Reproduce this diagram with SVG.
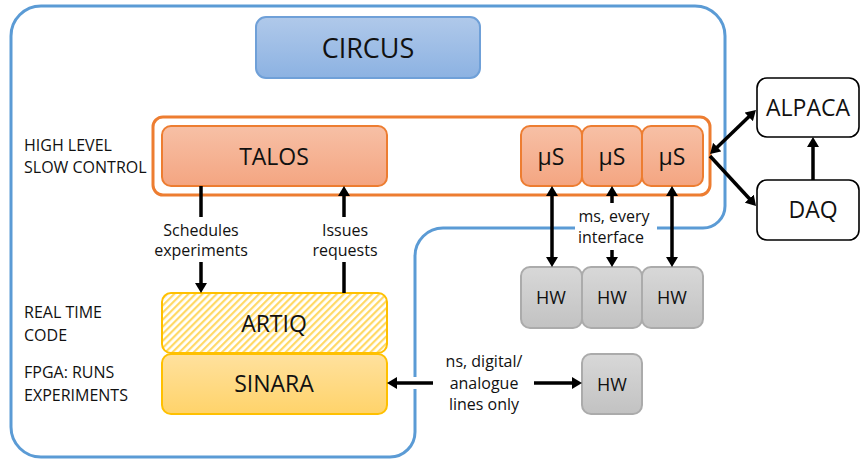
<svg xmlns="http://www.w3.org/2000/svg" width="861" height="459" viewBox="0 0 861 459">
<style>
  text { font-family: "Open Sans", "Liberation Sans", sans-serif; fill: #111; text-anchor: middle; }
  .lbl { font-size: 16px; text-anchor: start; }
  .small { font-size: 16px; }
  .big { font-size: 23px; }
  .conn { stroke: #000; stroke-width: 3.5; fill: none; }
  .orange { fill: url(#gOrange); stroke: #ED7D31; stroke-width: 2; }
  .hw { fill: url(#gGray); stroke: #ABABAB; stroke-width: 2; }
  .ext { fill: #fff; stroke: #000; stroke-width: 1.6; }
</style>
<defs>
  <linearGradient id="gBlue" x1="0" y1="0" x2="0" y2="1">
    <stop offset="0" stop-color="#B0C9EA"/><stop offset="1" stop-color="#8CB2E2"/>
  </linearGradient>
  <linearGradient id="gOrange" x1="0" y1="0" x2="0" y2="1">
    <stop offset="0" stop-color="#F7C0A6"/><stop offset="1" stop-color="#F4A581"/>
  </linearGradient>
  <linearGradient id="gGray" x1="0" y1="0" x2="0" y2="1">
    <stop offset="0" stop-color="#D8D8D8"/><stop offset="1" stop-color="#C2C2C2"/>
  </linearGradient>
  <linearGradient id="gYellow" x1="0" y1="0" x2="0" y2="1">
    <stop offset="0" stop-color="#FFE19E"/><stop offset="1" stop-color="#FFD36A"/>
  </linearGradient>
  <pattern id="hatch" patternUnits="userSpaceOnUse" width="5" height="5" patternTransform="rotate(45)">
    <rect width="5" height="5" fill="#fff"/>
    <rect x="0" y="0" width="2.2" height="5" fill="#FFD966"/>
  </pattern>
  <marker id="ah" viewBox="0 0 10 12" markerUnits="userSpaceOnUse" markerWidth="10" markerHeight="12" refX="3" refY="6" orient="auto-start-reverse">
    <path d="M0,0 L10,6 L0,12 z" fill="#000"/>
  </marker>
</defs>

<g id="circus-boundary">
  <path d="M41,6 H695 A30 30 0 0 1 725 36 V206 A22 22 0 0 1 703 228 H443 A28 28 0 0 0 415 256 V432 A25 25 0 0 1 390 457 H41 A30 30 0 0 1 11 427 V36 A30 30 0 0 1 41 6 Z" fill="none" stroke="#5B9BD5" stroke-width="3"/>
  <rect x="575" y="204" width="82" height="46" fill="#fff"/>
  <rect x="409" y="377" width="9" height="12" fill="#fff"/>
</g>

<g id="circus">
  <rect x="256" y="17" width="224" height="61" rx="10" fill="url(#gBlue)" stroke="#6FA0D8" stroke-width="2"/>
  <text x="368" y="58" style="font-size:27px">CIRCUS</text>
</g>

<g id="slow-control-frame">
  <rect x="153" y="117" width="557" height="78" rx="10" fill="#fff" stroke="#ED7D31" stroke-width="3"/>
</g>

<g id="talos">
  <rect class="orange" x="162" y="126" width="225" height="60" rx="9"/>
  <text class="big" x="274" y="165">TALOS</text>
</g>
<g id="us1">
  <rect class="orange" x="521" y="126" width="61" height="60" rx="9"/>
  <text class="big" x="551" y="165">μS</text>
</g>
<g id="us2">
  <rect class="orange" x="582" y="126" width="60" height="60" rx="9"/>
  <text class="big" x="612" y="165">μS</text>
</g>
<g id="us3">
  <rect class="orange" x="642" y="126" width="61" height="60" rx="9"/>
  <text class="big" x="672" y="165">μS</text>
</g>

<g id="artiq">
  <rect x="162" y="293" width="225" height="60" rx="9" fill="url(#hatch)" stroke="#FFC000" stroke-width="2"/>
  <text x="274" y="332" style="font-size:23px">ARTIQ</text>
</g>
<g id="sinara">
  <rect x="162" y="354" width="225" height="60" rx="9" fill="url(#gYellow)" stroke="#FFC000" stroke-width="2"/>
  <text x="274" y="392" style="font-size:23px">SINARA</text>
</g>

<g id="hw1">
  <rect class="hw" x="521" y="267" width="61" height="61" rx="9"/>
  <text x="551" y="304" style="font-size:18px">HW</text>
</g>
<g id="hw2">
  <rect class="hw" x="582" y="267" width="60" height="61" rx="9"/>
  <text x="612" y="304" style="font-size:18px">HW</text>
</g>
<g id="hw3">
  <rect class="hw" x="642" y="267" width="61" height="61" rx="9"/>
  <text x="672" y="304" style="font-size:18px">HW</text>
</g>
<g id="hw4">
  <rect class="hw" x="582" y="354" width="60" height="60" rx="9"/>
  <text x="612" y="391" style="font-size:18px">HW</text>
</g>

<g id="alpaca">
  <rect class="ext" x="757" y="78" width="102" height="59" rx="10"/>
  <text class="big" x="808" y="116">ALPACA</text>
</g>
<g id="daq">
  <rect class="ext" x="757" y="180" width="102" height="60" rx="10"/>
  <text class="big" x="813" y="218">DAQ</text>
</g>

<g id="labels">
  <text class="lbl" x="24" y="151">HIGH LEVEL</text>
  <text class="lbl" x="24" y="173">SLOW CONTROL</text>
  <text class="lbl" x="24" y="318">REAL TIME</text>
  <text class="lbl" x="24" y="341">CODE</text>
  <text class="lbl" x="24" y="378">FPGA: RUNS</text>
  <text class="lbl" x="24" y="401">EXPERIMENTS</text>
</g>

<g id="connectors">
  <line class="conn" x1="201" y1="186" x2="201" y2="217"/>
  <line class="conn" x1="201" y1="262" x2="201" y2="286" marker-end="url(#ah)"/>
  <text class="small" x="201" y="236">Schedules</text>
  <text class="small" x="201" y="256">experiments</text>

  <line class="conn" x1="344" y1="293" x2="344" y2="262"/>
  <line class="conn" x1="344" y1="217" x2="344" y2="193" marker-end="url(#ah)"/>
  <text class="small" x="345" y="236">Issues</text>
  <text class="small" x="345" y="256">requests</text>

  <line class="conn" x1="552" y1="193" x2="552" y2="260" marker-start="url(#ah)" marker-end="url(#ah)"/>
  <line class="conn" x1="672" y1="193" x2="672" y2="260" marker-start="url(#ah)" marker-end="url(#ah)"/>
  <line class="conn" x1="612" y1="203" x2="612" y2="193" marker-end="url(#ah)"/>
  <line class="conn" x1="612" y1="250" x2="612" y2="260" marker-end="url(#ah)"/>
  <text class="small" x="614" y="222">ms, every</text>
  <text class="small" x="611" y="243">interface</text>

  <line class="conn" x1="715.1" y1="149.2" x2="750.9" y2="114.8" marker-start="url(#ah)" marker-end="url(#ah)"/>
  <line class="conn" x1="710" y1="156" x2="751.3" y2="200.8" marker-end="url(#ah)"/>
  <line class="conn" x1="813" y1="180" x2="813" y2="144" marker-end="url(#ah)"/>

  <line class="conn" x1="433" y1="383" x2="394" y2="383" marker-end="url(#ah)"/>
  <line class="conn" x1="534" y1="383" x2="575" y2="383" marker-end="url(#ah)"/>
  <text class="small" x="484" y="367">ns, digital/</text>
  <text class="small" x="484" y="389">analogue</text>
  <text class="small" x="484" y="410">lines only</text>
</g>
</svg>
